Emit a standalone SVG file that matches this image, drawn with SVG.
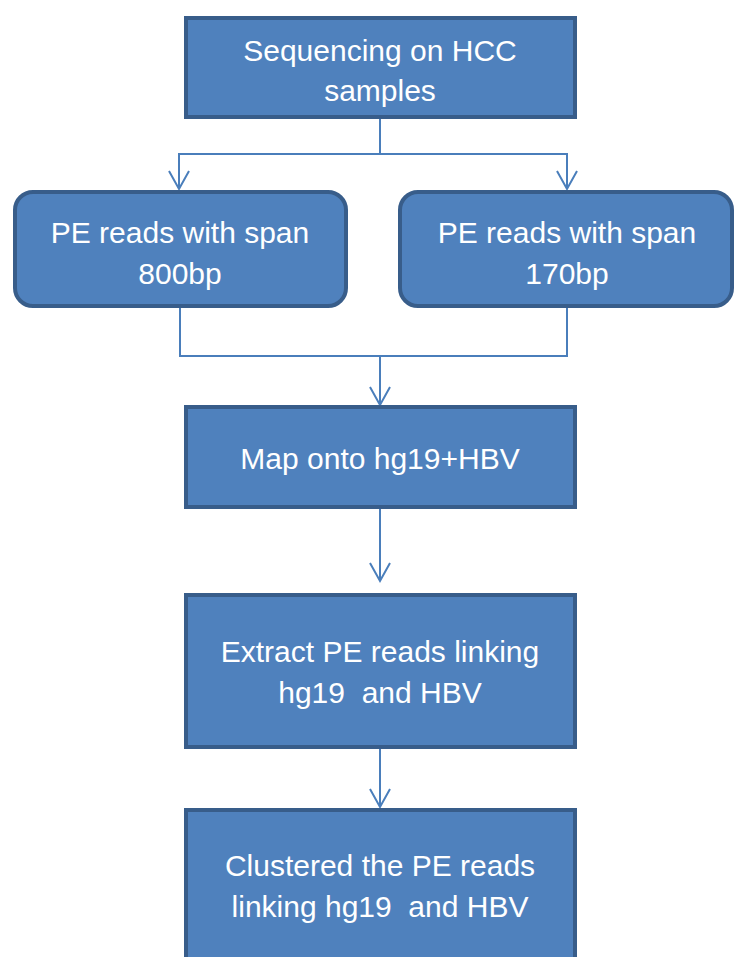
<svg xmlns="http://www.w3.org/2000/svg" width="735" height="957" viewBox="0 0 735 957">
<defs>
<style>
.box{fill:#4f81bd;stroke:#385d8a;stroke-width:4}
.lbl{font-family:"Liberation Sans",Arial,sans-serif;font-size:30px;fill:#ffffff;text-anchor:middle;white-space:pre}
.con{fill:none;stroke:#4a7ebb;stroke-width:2}
</style>
<marker id="arr" markerUnits="userSpaceOnUse" markerWidth="24" markerHeight="24" viewBox="-21 -12 24 24" refX="0" refY="0" orient="auto">
<path d="M-18,-10 L0,0 L-18,10" fill="none" stroke="#4a7ebb" stroke-width="2"/>
</marker>
</defs>
<rect width="735" height="957" fill="#ffffff"/>
<g id="connectors">
<path class="con" d="M380,119 V154 H179 V189" marker-end="url(#arr)"/>
<path class="con" d="M380,154 H567 V189" marker-end="url(#arr)"/>
<path class="con" d="M180,308 V356 H380 V405" marker-end="url(#arr)"/>
<path class="con" d="M567,308 V356 H380"/>
<path class="con" d="M380,509 V581" marker-end="url(#arr)"/>
<path class="con" d="M380,749 V807" marker-end="url(#arr)"/>
</g>
<g id="n1">
<rect class="box" x="186" y="18" width="389" height="99"/>
<text class="lbl" x="380" y="61">Sequencing on HCC</text>
<text class="lbl" x="380" y="101">samples</text>
</g>
<g id="n2">
<rect class="box" x="15" y="192" width="331" height="114" rx="18"/>
<text class="lbl" x="180" y="243">PE reads with span</text>
<text class="lbl" x="180" y="284">800bp</text>
</g>
<g id="n3">
<rect class="box" x="400" y="192" width="332" height="114" rx="18"/>
<text class="lbl" x="567" y="243">PE reads with span</text>
<text class="lbl" x="567" y="284">170bp</text>
</g>
<g id="n4">
<rect class="box" x="186" y="407" width="389" height="100"/>
<text class="lbl" x="380" y="469">Map onto hg19+HBV</text>
</g>
<g id="n5">
<rect class="box" x="186" y="595" width="389" height="152"/>
<text class="lbl" x="380" y="662">Extract PE reads linking</text>
<text class="lbl" x="380" y="703" xml:space="preserve">hg19  and HBV</text>
</g>
<g id="n6">
<rect class="box" x="186" y="810" width="389" height="200"/>
<text class="lbl" x="380" y="876">Clustered the PE reads</text>
<text class="lbl" x="380" y="917" xml:space="preserve">linking hg19  and HBV</text>
</g>
</svg>
